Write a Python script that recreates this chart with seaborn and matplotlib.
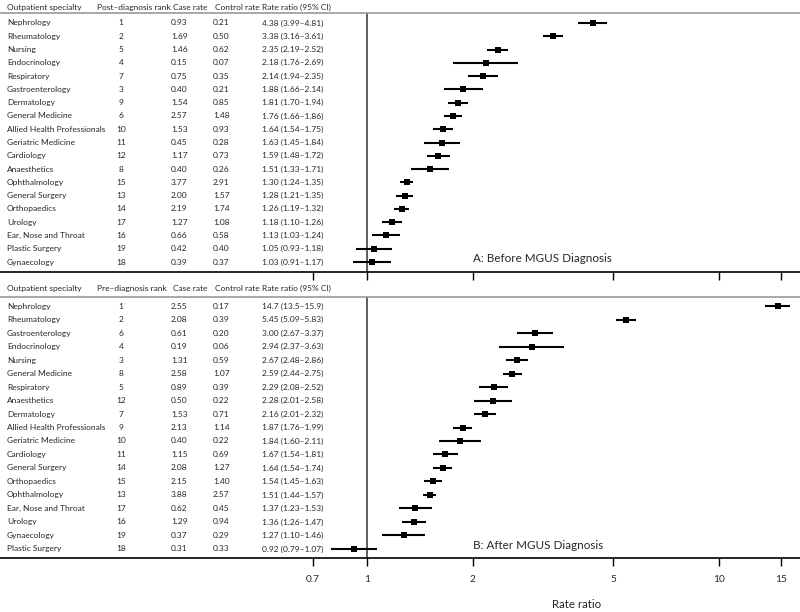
import matplotlib
matplotlib.use("Agg")
import matplotlib.pyplot as plt
import seaborn as sns
import numpy as np
import pandas as pd
from matplotlib.ticker import FixedLocator, NullLocator

# panel A: before MGUS diagnosis
spec_a = ['Nephrology', 'Rheumatology', 'Nursing', 'Endocrinology', 'Respiratory',
          'Gastroenterology', 'Dermatology', 'General Medicine', 'Allied Health Professionals',
          'Geriatric Medicine', 'Cardiology', 'Anaesthetics', 'Ophthalmology', 'General Surgery',
          'Orthopaedics', 'Urology', 'Ear, Nose and Throat', 'Plastic Surgery', 'Gynaecology']
rank_a = [1, 2, 5, 4, 7, 3, 9, 6, 10, 11, 12, 8, 15, 13, 14, 17, 16, 19, 18]
case_a = [0.93, 1.69, 1.46, 0.15, 0.75, 0.40, 1.54, 2.57, 1.53, 0.45, 1.17, 0.40, 3.77, 2.00, 2.19, 1.27, 0.66, 0.42, 0.39]
ctrl_a = [0.21, 0.50, 0.62, 0.07, 0.35, 0.21, 0.85, 1.48, 0.93, 0.28, 0.73, 0.26, 2.91, 1.57, 1.74, 1.08, 0.58, 0.40, 0.37]
rr_a = [4.38, 3.38, 2.35, 2.18, 2.14, 1.88, 1.81, 1.76, 1.64, 1.63, 1.59, 1.51, 1.30, 1.28, 1.26, 1.18, 1.13, 1.05, 1.03]
lo_a = [3.99, 3.16, 2.19, 1.76, 1.94, 1.66, 1.70, 1.66, 1.54, 1.45, 1.48, 1.33, 1.24, 1.21, 1.19, 1.10, 1.03, 0.93, 0.91]
hi_a = [4.81, 3.61, 2.52, 2.69, 2.35, 2.14, 1.94, 1.86, 1.75, 1.84, 1.72, 1.71, 1.35, 1.35, 1.32, 1.26, 1.24, 1.18, 1.17]

# panel B: after MGUS diagnosis
spec_b = ['Nephrology', 'Rheumatology', 'Gastroenterology', 'Endocrinology', 'Nursing',
          'General Medicine', 'Respiratory', 'Anaesthetics', 'Dermatology', 'Allied Health Professionals',
          'Geriatric Medicine', 'Cardiology', 'General Surgery', 'Orthopaedics', 'Ophthalmology',
          'Ear, Nose and Throat', 'Urology', 'Gynaecology', 'Plastic Surgery']
rank_b = [1, 2, 6, 4, 3, 8, 5, 12, 7, 9, 10, 11, 14, 15, 13, 17, 16, 19, 18]
case_b = [2.55, 2.08, 0.61, 0.19, 1.31, 2.58, 0.89, 0.50, 1.53, 2.13, 0.40, 1.15, 2.08, 2.15, 3.88, 0.62, 1.29, 0.37, 0.31]
ctrl_b = [0.17, 0.39, 0.20, 0.06, 0.59, 1.07, 0.39, 0.22, 0.71, 1.14, 0.22, 0.69, 1.27, 1.40, 2.57, 0.45, 0.94, 0.29, 0.33]
rr_b = [14.7, 5.45, 3.00, 2.94, 2.67, 2.59, 2.29, 2.28, 2.16, 1.87, 1.84, 1.67, 1.64, 1.54, 1.51, 1.37, 1.36, 1.27, 0.92]
lo_b = [13.5, 5.09, 2.67, 2.37, 2.48, 2.44, 2.08, 2.01, 2.01, 1.76, 1.60, 1.54, 1.54, 1.45, 1.44, 1.23, 1.26, 1.10, 0.79]
hi_b = [15.9, 5.83, 3.37, 3.63, 2.86, 2.75, 2.52, 2.58, 2.32, 1.99, 2.11, 1.81, 1.74, 1.63, 1.57, 1.53, 1.47, 1.46, 1.07]

tick_vals = [0.7, 1, 2, 5, 10, 15]
tick_labels = ['0.7', '1', '2', '5', '10', '15']

sns.set_style("white")
plt.rcParams['font.family'] = ['Lato', 'DejaVu Sans']

W, H = 800, 612
fig = plt.figure(figsize=(8, 6.12), dpi=100)

# axes span the full width; log scale set so that 1 -> x=367px, 2 -> x=473px
px_per_ln = 152.8
xlim = (np.exp(-367 / px_per_ln), np.exp((W - 367) / px_per_ln))

FS = 6.0


def fmt(v):
    return f"{v:.1f}" if v >= 10 else f"{v:.2f}"


def panel(ax, spec, rank, case, ctrl, rr, lo, hi, rank_title, label, margin, hdr_off, show_labels):
    df = pd.DataFrame({'row': np.arange(len(spec)), 'rr': rr, 'lo': lo, 'hi': hi})
    ax.hlines(df['row'], df['lo'], df['hi'], color='black', lw=1.5, zorder=2)
    sns.scatterplot(data=df, x='rr', y='row', marker='s', s=15, color='black',
                    edgecolor='black', linewidth=0, ax=ax, zorder=3)
    ax.axvline(1, color='#333333', lw=1.1, zorder=1)
    ax.set_xscale('log')
    ax.set_xlim(*xlim)
    ax.set_ylim(len(spec) - 1 + margin, -margin)
    ax.xaxis.set_major_locator(FixedLocator(tick_vals))
    ax.xaxis.set_minor_locator(NullLocator())
    if show_labels:
        ax.set_xticklabels(tick_labels)
    else:
        ax.set_xticklabels([])
    ax.tick_params(axis='x', direction='out', length=6, width=1, color='black',
                   labelsize=7.3, pad=6, bottom=True)
    ax.set_yticks([])
    ax.set_xlabel('')
    ax.set_ylabel('')
    for s in ['left', 'right']:
        ax.spines[s].set_visible(False)
    ax.spines['top'].set_color('#999999')
    ax.spines['top'].set_linewidth(1.2)
    ax.spines['bottom'].set_color('black')
    ax.spines['bottom'].set_linewidth(1.2)

    tr = ax.get_yaxis_transform()
    hy = -margin - hdr_off
    heads = [(7, 'Outpatient specialty'), (97, rank_title), (173, 'Case rate'),
             (215, 'Control rate'), (262, 'Rate ratio (95% CI)')]
    for x, t in heads:
        ax.text(x / W, hy, t, transform=tr, ha='left', va='center', fontsize=FS, clip_on=False)
    for i in range(len(spec)):
        ax.text(7 / W, i, spec[i], transform=tr, ha='left', va='center', fontsize=FS)
        ax.text(121 / W, i, str(rank[i]), transform=tr, ha='center', va='center', fontsize=FS)
        ax.text(171 / W, i, f"{case[i]:.2f}", transform=tr, ha='left', va='center', fontsize=FS)
        ax.text(213 / W, i, f"{ctrl[i]:.2f}", transform=tr, ha='left', va='center', fontsize=FS)
        ax.text(262 / W, i, f"{fmt(rr[i])} ({fmt(lo[i])}\u2013{fmt(hi[i])})", transform=tr,
                ha='left', va='center', fontsize=FS)
    ax.text(473 / W, 17.75, label, transform=tr, ha='left', va='center', fontsize=8.4)


ax1 = fig.add_axes([0, 1 - 272 / H, 1, 259 / H])
ax2 = fig.add_axes([0, 1 - 558 / H, 1, 261 / H])

panel(ax1, spec_a, rank_a, case_a, ctrl_a, rr_a, lo_a, hi_a, 'Post\u2013diagnosis rank',
      'A: Before MGUS Diagnosis', 0.75, 0.45, False)
panel(ax2, spec_b, rank_b, case_b, ctrl_b, rr_b, lo_b, hi_b, 'Pre\u2013diagnosis rank',
      'B: After MGUS Diagnosis', 0.67, 0.6, True)

fig.text(577 / W, 1 - 605 / H, 'Rate ratio', ha='center', va='center', fontsize=8.3)

fig.savefig('out.png', dpi=100)
